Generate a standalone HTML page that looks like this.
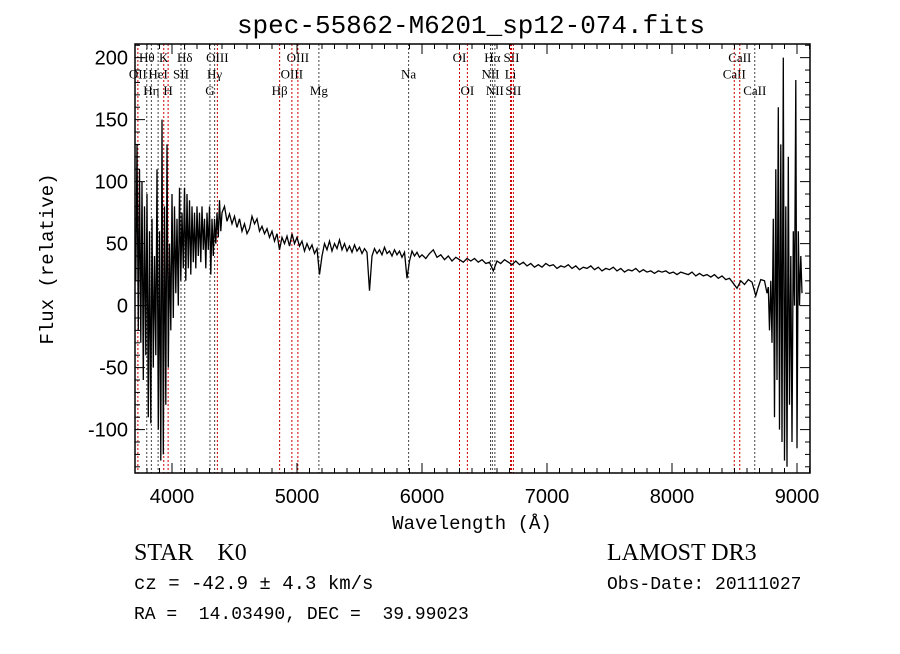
<!DOCTYPE html>
<html><head><meta charset="utf-8"><style>
body{margin:0;background:#fff;}
svg text{font-family:"Liberation Mono",monospace;fill:#000;white-space:pre;}
</style></head><body>
<svg id="chart" width="900" height="649" xmlns="http://www.w3.org/2000/svg" xml:space="preserve">
<rect width="900" height="649" fill="#fff"/>
<text x="471" y="33" text-anchor="middle" font-size="26">spec-55862-M6201_sp12-074.fits</text>
<g id="lines"></g>
<g id="plot"></g>
<g id="axes"></g>
<text x="472" y="529" text-anchor="middle" font-size="19">Wavelength (Å)</text>
<text transform="translate(53,259) rotate(-90)" text-anchor="middle" font-size="19">Flux (relative)</text>
<text x="134" y="560" font-size="24" style="font-family:'Liberation Serif',serif">STAR    K0</text>
<text x="607" y="560" font-size="24" style="font-family:'Liberation Serif',serif">LAMOST DR3</text>
<text x="134" y="589" font-size="19">cz = -42.9 ± 4.3 km/s</text>
<text x="607" y="589" font-size="18">Obs-Date: 20111027</text>
<text x="134" y="619" font-size="18">RA =  14.03490, DEC =  39.99023</text>
</svg>
<script>
const waves=[3710,3720,3730,3740,3750,3760,3770,3780,3790,3800,3810,3820,3830,3840,3850,3860,3870,3880,3890,3900,3910,3920,3930,3940,3950,3960,3970,3980,3990,4000,4010,4020,4030,4040,4050,4060,4070,4080,4090,4100,4110,4120,4130,4140,4150,4160,4170,4180,4190,4200,4210,4220,4230,4240,4250,4260,4270,4280,4290,4300,4310,4320,4330,4340,4350,4360,4370,4380,4390,
4400,4420,4440,4460,4480,4500,4520,4540,4560,4580,4600,4620,4640,4660,4680,4700,4720,4740,4760,4780,4800,4820,4840,4860,4880,4900,4920,4940,4960,4980,5000,5020,5040,5060,5080,5100,5120,5140,5160,5180,5200,5220,5240,5260,5280,5300,5320,5340,5360,5380,5400,5420,5440,5460,5480,5500,5520,5540,5560,5580,5600,5620,5640,5660,5680,5700,5720,5740,5760,5780,5800,5820,5840,5860,5880,5900,5920,5940,5960,5980,
6000,6030,6060,6090,6120,6150,6180,6210,6240,6270,6300,6330,6360,6390,6420,6450,6480,6510,6540,6570,6600,6630,6660,6690,6720,6750,6780,6810,6840,6870,6900,6930,6960,6990,7020,7050,7080,7110,7140,7170,7200,7230,7260,7290,7320,7350,7380,7410,7440,7470,7500,7530,7560,7590,7620,7650,7680,7710,7740,7770,7800,7830,7860,7890,7920,7950,7980,8010,8040,8070,8100,8130,8160,8190,8220,8250,8280,8310,8340,8370,8400,8430,8460,8490,8520,8550,8580,8610,8640,8670,8690,8710,8740,
8760,8770,8780,8790,8800,8810,8820,8830,8840,8850,8860,8870,8880,8890,8900,8910,8920,8930,8940,8950,8960,8970,8980,8990,9000,9010,9020,9030,9040];
const flux=[20,130,-20,110,-30,100,-60,80,-40,90,-90,60,-95,70,-50,40,-40,110,-100,60,-125,150,-120,80,-80,130,-50,50,-20,90,-10,80,10,70,0,95,20,75,30,95,20,90,30,85,25,80,35,75,30,80,40,75,35,80,45,70,30,75,45,80,25,70,40,70,50,75,55,85,60,
75,80,68,74,66,72,63,70,60,66,58,62,72,66,70,60,64,58,62,55,60,52,58,45,55,50,56,48,58,50,55,48,52,44,50,45,49,42,46,25,40,50,45,52,44,50,46,53,45,50,44,48,43,49,44,47,42,46,43,12,40,46,42,45,41,47,42,44,40,45,41,44,39,43,22,36,44,40,43,39,
41,38,42,45,39,41,37,40,36,39,37,35,38,36,38,35,37,34,35,28,36,34,37,35,33,36,33,35,32,34,31,33,31,34,32,33,30,32,31,33,30,32,29,31,30,32,29,31,28,30,29,31,28,30,27,29,28,30,27,29,27,28,26,28,27,28,26,27,25,27,26,25,27,24,26,24,25,23,25,22,24,21,22,18,14,20,17,21,19,8,15,21,20,
10,15,-20,20,-30,70,-90,110,-60,160,-100,130,-110,200,-125,80,-130,120,-80,40,-110,60,0,182,-115,60,0,40,10];
const lineWaves=[3727,3798,3835,3889,3934,3969,4072,4102,4304,4341,4363,4861,4959,5007,5175,5893,6300,6363,6548,6563,6583,6708,6716,6731,8498,8542,8662];
const lineLabels=["OII","Hθ","Hη","HeI","K","H","SII","Hδ","G","Hγ","OIII","Hβ","OIII","OIII","Mg","Na","OI","OI","NII","Hα","NII","Li","SII","SII","CaII","CaII","CaII"];
const lineRows=[1,0,2,1,0,2,1,0,2,1,0,2,1,0,2,1,0,2,1,0,2,1,0,2,1,0,2];
const lineRed=[1,0,0,0,1,1,0,0,0,0,1,1,1,1,0,0,1,1,0,0,0,1,1,1,1,1,0];
const xTicks=[4000,5000,6000,7000,8000,9000];
const yTicks=[-100,-50,0,50,100,150,200];

const L=135,R=810,T=44,B=473, xmin=3704,xmax=9104,ymin=-135,ymax=211;
const X=v=>L+(v-xmin)/(xmax-xmin)*(R-L);
const Y=v=>B-(v-ymin)/(ymax-ymin)*(B-T);
const NS="http://www.w3.org/2000/svg";
function mk(tag,attrs,parent){const e=document.createElementNS(NS,tag);for(const k in attrs)e.setAttribute(k,attrs[k]);parent.appendChild(e);return e;}
const gl=document.getElementById('lines'),gp=document.getElementById('plot'),ga=document.getElementById('axes');
lineWaves.forEach((w,i)=>{
  const x=X(w);
  const ln=mk('line',{x1:x,x2:x,y1:T,y2:B,stroke:lineRed[i]?'#c00':'#444','stroke-width':1,'stroke-dasharray':'2,2'},gl);
  
  
  const t=mk('text',{x:x,y:62+lineRows[i]*16.5,'text-anchor':'middle','font-size':13},gl);
  t.style.fontFamily="'Liberation Serif',serif";
  t.textContent=lineLabels[i];
  
  
});
let d='';
waves.forEach((w,i)=>{d+=(i?'L':'M')+X(w).toFixed(1)+','+Y(Math.max(ymin,Math.min(ymax,flux[i]))).toFixed(1);});
const sp=mk('path',{d:d,fill:'none',stroke:'#000','stroke-width':1.3},gp);


const fr=mk('rect',{x:L,y:T,width:R-L,height:B-T,fill:'none',stroke:'#000','stroke-width':1.5},ga);


for(let v=3800;v<=9100;v+=100){const x=X(v),maj=v%1000===0,len=maj?10:5;
  mk('line',{x1:x,x2:x,y1:B,y2:B-len,stroke:'#000'},ga);mk('line',{x1:x,x2:x,y1:T,y2:T+len,stroke:'#000'},ga);}
for(let v=-130;v<=210;v+=10){const y=Y(v),maj=v%50===0,len=maj?10:5;
  mk('line',{x1:L,x2:L+len,y1:y,y2:y,stroke:'#000'},ga);mk('line',{x1:R,x2:R-len,y1:y,y2:y,stroke:'#000'},ga);}
xTicks.forEach(v=>{const t=mk('text',{x:X(v),y:B+30,'text-anchor':'middle','font-size':20},ga);t.style.fontFamily="'Liberation Sans',sans-serif";t.textContent=v;
  
  });
yTicks.forEach(v=>{const t=mk('text',{x:L-7,y:Y(v)+7,'text-anchor':'end','font-size':20},ga);t.style.fontFamily="'Liberation Sans',sans-serif";t.textContent=v;
  
  });
</script>
</body></html>
